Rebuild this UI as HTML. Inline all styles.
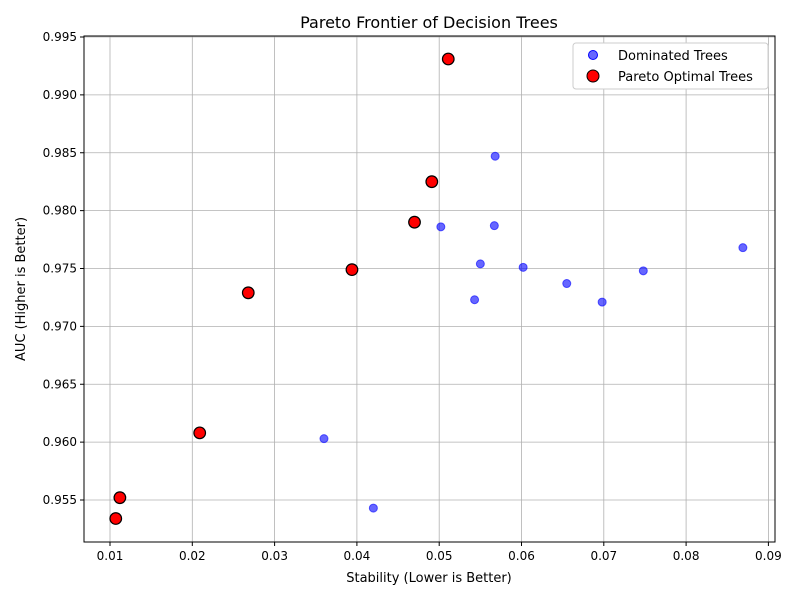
<!DOCTYPE html>
<html><head><meta charset="utf-8"><style>
body{margin:0;background:#fff;font-family:"Liberation Sans","DejaVu Sans",sans-serif}
svg text{font-family:"DejaVu Sans","Liberation Sans",sans-serif;fill:#000}
</style></head><body>
<svg id="chart" width="800" height="600">
<rect width="800" height="600" fill="#fff"/>
<g id="grid"></g><g id="marks"></g><g id="axes"></g>
<text x="429" y="28" font-size="16" text-anchor="middle">Pareto Frontier of Decision Trees</text>
<text x="429" y="582" font-size="13" text-anchor="middle">Stability (Lower is Better)</text>
<text transform="translate(25,289) rotate(-90)" font-size="13" text-anchor="middle">AUC (Higher is Better)</text>
<g>
<rect x="573" y="43" width="195" height="46" fill="#fff" stroke="#ccc" rx="3"/>
<circle cx="593" cy="55" r="4.5" fill="#0000ff" fill-opacity="0.6" stroke="#0000ff"/>
<text x="618" y="60" font-size="13">Dominated Trees</text>
<circle cx="593" cy="76" r="6" fill="#ff0000" stroke="#000"/>
<text x="618" y="81" font-size="13">Pareto Optimal Trees</text>
</g>
</svg>
<script>
const xTicks=[0.01,0.02,0.03,0.04,0.05,0.06,0.07,0.08,0.09];
const yTicks=[0.955,0.960,0.965,0.970,0.975,0.980,0.985,0.990,0.995];
const domX=[0.0568,0.0502,0.0567,0.0550,0.0602,0.0655,0.0748,0.0869,0.0543,0.0698,0.0360,0.0420];
const domY=[0.9847,0.9786,0.9787,0.9754,0.9751,0.9737,0.9748,0.9768,0.9723,0.9721,0.9603,0.9543];
const parX=[0.0511,0.0491,0.0470,0.0394,0.0268,0.0209,0.0112,0.0107];
const parY=[0.9931,0.9825,0.9790,0.9749,0.9729,0.9608,0.9552,0.9534];
const L=84,R=775,T=36,B=542;
const xs=v=>110+(v-0.01)*8230;
const ys=v=>500-(v-0.955)/0.005*57.875;
const NS="http://www.w3.org/2000/svg";
function mk(tag,at,parent){const e=document.createElementNS(NS,tag);for(const k in at)e.setAttribute(k,at[k]);document.getElementById(parent).appendChild(e);return e;}
xTicks.forEach(t=>{const x=xs(t);
const g=mk('line',{x1:x,x2:x,y1:T,y2:B,stroke:'#b0b0b0','stroke-width':0.8},'grid');


mk('line',{x1:x,x2:x,y1:B,y2:B+4,stroke:'#000'},'axes');
const l=mk('text',{x:x,y:B+18,'font-size':12,'text-anchor':'middle'},'axes');l.textContent=t.toFixed(2);

});
yTicks.forEach(t=>{const y=ys(t);
const g=mk('line',{x1:L,x2:R,y1:y,y2:y,stroke:'#b0b0b0','stroke-width':0.8},'grid');


mk('line',{x1:L-4,x2:L,y1:y,y2:y,stroke:'#000'},'axes');
const l=mk('text',{x:L-7,y:y+4,'font-size':12,'text-anchor':'end'},'axes');l.textContent=t.toFixed(3);

});
const fr=mk('rect',{x:L,y:T,width:R-L,height:B-T,fill:'none',stroke:'#000'},'axes');


domX.forEach((v,i)=>{const c=mk('circle',{cx:xs(v),cy:ys(domY[i]),r:4,fill:'#0000ff','fill-opacity':0.6,stroke:'#0000ff','stroke-opacity':0.6},'marks');

});
parX.forEach((v,i)=>{const c=mk('circle',{cx:xs(v),cy:ys(parY[i]),r:5.8,fill:'#ff0000',stroke:'#000','stroke-width':1.2},'marks');

});
</script>
</body></html>
